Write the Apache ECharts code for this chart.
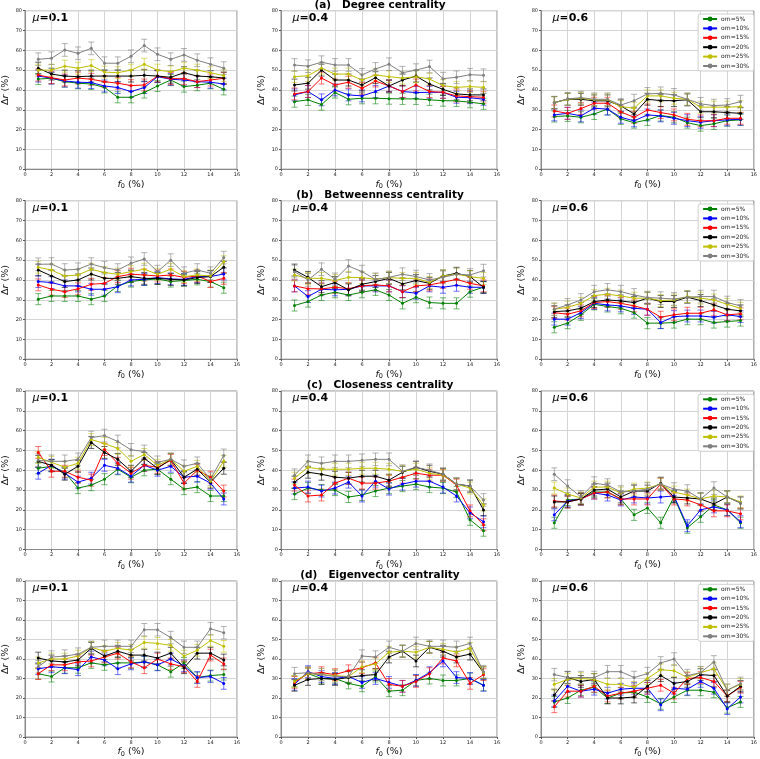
<!DOCTYPE html>
<html><head><meta charset="utf-8">
<script src="https://cdn.jsdelivr.net/npm/echarts@6/dist/echarts.min.js"></script>
<style>html,body{margin:0;padding:0;background:#fff}#c{width:760px;height:759px}</style>
</head><body><div id="c"></div>
<script>
const F0 = [1,2,3,4,5,6,7,8,9,10,11,12,13,14,15];
const SERIES_NAMES = ['om=5%','om=10%','om=15%','om=20%','om=25%','om=30%'];
const COLORS = ['#008000','#0000ff','#ff0000','#000000','#bfbf00','#808080'];
const ERR_COLORS = ['rgba(0,128,0,0.55)','rgba(0,0,255,0.55)','rgba(255,0,0,0.55)','rgba(0,0,0,0.6)','rgba(191,191,0,0.55)','rgba(128,128,128,0.6)'];
const ERR_HALF = [2.8,3,3,3,3,3.2];
const MU_LABELS = ['0.1','0.4','0.6'];
const ROW_TITLES = ['(a)   Degree centrality','(b)   Betweenness centrality','(c)   Closeness centrality','(d)   Eigenvector centrality'];
const X_TICK_INTERVAL = 2, Y_TICK_INTERVAL = 10;

const DEG_MU01 = [
 [45.5,45.9,44.2,43.4,43,41.3,36.3,36.3,38.7,42,45,41.7,42.4,43.4,40.3],
 [47,46,44.5,43.9,43.7,42,41.2,39.2,41.2,46.7,45.4,45,44.2,43.9,43],
 [47.5,46.2,45,46,45.4,44.2,43.4,42.2,42.5,47,45.7,45.7,44.2,45,45.9],
 [51,48,47,46.7,47,47,47,47,47.4,47,46.4,48.7,47,46.7,46],
 [50,50,52,51,52.3,49,48.7,50,53,50,49.2,51,50,48.7,47.2],
 [55.5,56,60.2,58.5,61,53.5,53.5,57,62.4,58,55.5,57.7,55,53,51]];
const DEG_MU04 = [
 [34.1,35,32.6,38.7,35.3,35.8,35.8,35.6,35.5,35.5,35,34.6,34.5,33.8,33],
 [37.5,39.2,35,40,37.5,37,39.2,42,39.2,38.7,38.8,38.8,36.3,36.1,35.3],
 [38,39.2,46,42.5,43.9,40.8,44.5,42,39.2,42.5,39.2,38.8,37,36.6,36.3],
 [42.5,43.4,50,45,45,42.5,46.2,42,45,47,43,40.3,38,37.5,37.5],
 [46.7,47.2,51,48,48,45,47.6,46.7,46,46.7,45.5,42.2,41.3,41.7,41.3],
 [52.6,52,54,52.6,52.6,47.6,50.6,53,48.7,50,51.8,45.7,46.4,47.7,47.4]];
const DEG_MU06 = [
 [26.6,26.9,26.2,27.9,30.3,25.4,23.5,24.9,27.1,26.2,23.5,22,22.9,24.5,24.9],
 [27.4,28.2,26.9,30.8,30.3,26.2,24.4,27.4,26.9,25.7,24.5,23.7,24.5,24.9,25.2],
 [29.4,28.2,30.6,33.3,33.3,28.9,26.2,29.9,28.6,27.4,25.2,24.4,24.5,25.7,25.7],
 [33.6,35.3,35.3,34.5,34.5,32,27.9,35.3,34.6,34.6,35,29,29,28.6,28.2],
 [33.6,35.3,35.8,35,35,31.6,30.8,37,37,35.8,35.3,31.3,31.3,31.3,31.6],
 [33.6,35.5,36.1,35.3,35.3,32.4,34.6,38,38.3,37.5,35.3,33,32.1,32.4,34.1]];
const BET_MU01 = [
 [30.3,31.9,31.9,31.9,30.3,31.9,37,39.2,40,40.5,39.2,39.7,40.3,39.2,36.1],
 [39.2,38.7,37,37,35.3,35.3,36.6,40,40.3,41.2,40.5,40.3,41.7,41.7,43],
 [37.5,35.3,34.1,35.5,37.8,38.3,41.7,42.9,42.5,42,42.5,41.3,42,39.2,40.8],
 [45,42,39.2,40,43,40.8,40.8,41.7,40.8,40.8,40.3,40,41.2,41.7,46.4],
 [46.4,45,42,42.5,45.4,43.7,42.9,44.2,45.4,42.9,45.4,41.7,42.5,42,49.2],
 [47.9,48,45,45.4,48,46.2,45,48.4,50.6,44.2,50,43.4,45,43.4,51.3]];
const BET_MU04 = [
 [27.1,29.1,32.4,33.8,32.4,33.8,35,32.4,28.2,31.3,28.6,28.2,28.2,34.1,36.3],
 [37,31.6,35.3,35,35.3,37,37,37,34.1,33.3,37,36.3,37.3,36.3,36.3],
 [37,35.6,35.5,36.3,35.6,37,37.5,37,34.1,37,37.5,38.8,40.3,38.3,37],
 [45,41.3,36.6,38.7,35,37.8,39.2,40.8,38,39.7,38.3,42,43.4,41.7,36.3],
 [42.5,40.8,40.8,39.7,41.3,41.2,40.3,41.2,40.8,40.8,38.8,42,42.9,41.7,40.8],
 [44.2,40,45.4,40.3,47,44.2,40.3,41.3,42.9,41.7,40,41.3,42.9,42.5,44.7]];
const BET_MU06 = [
 [16.1,18.2,22.4,27.7,26.6,25.7,23.5,18.2,18.2,18.5,20.2,20.2,18.5,19,19.5],
 [20.2,20.2,23.5,28.2,27.4,26.9,25.7,25.2,18.5,21.5,21.8,21.8,21.2,22.4,21.5],
 [23.5,22.7,24.4,28.6,29.1,28.2,26.9,25.2,21.2,22.4,23.2,23.2,24.9,22.4,22.9],
 [24,24.4,25.7,29.1,29.9,29.4,28.6,30.8,29.1,29.1,31.3,29.6,27.4,25.2,24.4],
 [25.2,26.2,28.2,32.1,32.8,31.9,30.8,30.8,29.6,29.9,31.6,30.8,29.9,27.7,25.7],
 [25.2,27.4,29.9,34.1,35,34.1,32.4,31.1,30.8,30.4,31.3,31.6,31.6,28.6,26.9]];
const CLO_MU01 = [
 [41,42,39,31,32.5,35.5,40.5,36.5,40,40.5,35.5,30.5,31.5,27,27],
 [38.5,42.5,38.5,34,36,42.5,41,37,42.5,40,42,36.5,37,33.5,25.5],
 [49,39.5,39.5,36.5,35,50.5,43.5,38.5,42.5,41.5,45,33.5,40,36.5,29.5],
 [44.5,42.5,38,42,54,49,45.5,39.5,46,41,45.5,36.5,40.5,34,41],
 [46.5,44,41.5,43.5,55.5,53.5,51,44.5,48,42.5,45.5,39.5,42,34.5,44.5],
 [45,44.5,44.5,45.5,56.5,57.5,54.5,50.3,49.5,44,45.5,42,43.5,35.5,47.5]];
const CLO_MU04 = [
 [28,31,30,30,26.5,27.5,29.5,31,32,33,31.5,31,29,15,9.5],
 [31,31.5,29.5,31,34,27,34.5,30.5,33,34.5,34.5,31.5,27,18.5,14],
 [32.5,27,27.5,33.5,36,33.5,33.5,34.5,36.5,38.5,37.5,37.5,32.5,19.5,12.5],
 [34,39,38,36.5,36,37,37,35,39,41.5,39.5,38,33,32,20],
 [36,41.5,40.5,40.5,40.5,41,41,40.5,39.5,40.5,38.5,37.5,33,31,22.5],
 [37.5,44.5,43.5,44.5,44.5,45,45.5,45.5,39.5,41.5,40,38,33,32,25]];
const CLO_MU06 = [
 [13.5,25,25.5,29,29,25.5,17.5,21,13.5,26.5,11,16.5,22.5,20,13.5],
 [17.5,24.5,25.5,28.5,27.5,25,26.5,26,26.5,27,12,20,21.5,20,14],
 [24.5,24,25.5,28.5,29,25.5,25.5,25.5,33,25.5,25,22.5,19.5,19.5,18],
 [24,24,25.5,30,30.5,26.5,29.5,29.5,33.5,26.5,26,25.5,23,26.5,23.5],
 [31,28,26,31.5,31.5,28.5,30.5,31,33,29,27.5,25.5,27,26.5,24],
 [38,32,26.5,33.5,32.5,29,29.5,30.5,33,30.5,29.5,25.5,31,26.5,23.5]];
const EIG_MU01 = [
 [32.5,31,35.5,35.5,38,37,38,38,38.5,37,33.5,38,30.5,31.5,32],
 [35,36,35.5,34.5,41,39.5,35,37.5,38.5,37,40,36.5,30.5,31,27.5],
 [32.5,37,37,38.5,39,41,43,38.5,35.5,40,37.5,36,28.5,42,37.5],
 [40.5,39,38.5,39.5,45.5,41.5,44,42,42,40.5,43,35.5,43,43,39.5],
 [38,40,40,41.5,46,44,45.5,44.5,48.5,48,47,41.5,44.5,49.5,46.5],
 [36,41,41.5,42.5,46,46.5,46.5,46.5,55,55,51,46,46,55.5,53.5]];
const EIG_MU04 = [
 [28.5,32.5,30,30,27.5,26,31,23.5,24,29,30,29,29,30,26.5],
 [27,33.5,31,30,31,28,30,28,26,29,33,39,30.5,30,26.5],
 [28,32.5,33,32,34,35.5,38,27,26,28.5,32.5,40.5,39,27.5,32],
 [26.5,29.5,30,29.5,30.5,31.5,32,41,44,39,46,44,41,42.5,33],
 [28.5,32.5,32,31.5,31,36,37.5,43.5,44,43.5,46,45,43.5,45.5,33],
 [32.5,33,32,31,31,41.5,41,46,44,48,46.5,46.5,46,48,33.5]];
const EIG_MU06 = [
 [18,20,24,25.5,20,22.5,23,20.5,17,20.5,24,24,23,15,18],
 [18.5,26,23.5,24.5,22.5,24.5,25,25,16.5,25,24.5,28.5,25,14.5,20.5],
 [15.5,23.5,23.5,26,21,22.5,23.5,25,26.5,22.5,30,30.5,28.5,21,25.5],
 [21.5,30.5,28.5,29.5,20,20,20.5,26,31.5,27.5,28.5,32,31.5,21,26],
 [27,29.5,30,29.5,27,27,25.5,30,34.5,34,30.5,33,35,24,27],
 [32,30.5,30.5,30.5,33.5,33.5,30.5,32.5,38,40,31.5,33,38.5,24,27.5]];

const PANELS = [[DEG_MU01,DEG_MU04,DEG_MU06],[BET_MU01,BET_MU04,BET_MU06],[CLO_MU01,CLO_MU04,CLO_MU06],[EIG_MU01,EIG_MU04,EIG_MU06]];

// layout
const COL_LEFT = [21,281,541], PW = 216;
const ROW_TOP = [10.7,200.7,391,581], PH = 158.5;
const FONT = 'DejaVu Sans';

const grids = [], xAxes = [], yAxes = [], series = [], graphics = [], legends = [];
let gi = 0;
for (let r = 0; r < 4; r++) {
  for (let c = 0; c < 3; c++) {
    grids.push({left: COL_LEFT[c], top: ROW_TOP[r], width: PW, height: PH, show: true, borderColor: '#8a8a8a', borderWidth: 1, backgroundColor: 'transparent'});
    xAxes.push({gridIndex: gi, type: 'value', min: 0, max: 16, interval: X_TICK_INTERVAL,
      name: '{i|f}{s|0}{n| (%)}', nameLocation: 'middle', nameGap: 9,
      nameTextStyle: {rich: {i: {fontFamily: FONT, fontStyle: 'italic', fontSize: 9.5, color: '#111'}, s: {fontFamily: FONT, fontSize: 6.5, color: '#111', padding: [5,0,0,0]}, n: {fontFamily: FONT, fontSize: 9.5, color: '#111'}}},
      axisLine: {show: true, lineStyle: {color: '#8a8a8a', width: 1}},
      axisTick: {show: true, length: 2, lineStyle: {color: '#555'}},
      axisLabel: {fontSize: 5, fontFamily: FONT, color: '#222', margin: 3},
      splitLine: {show: true, lineStyle: {color: '#d4d4d4', width: 1}}});
    yAxes.push({gridIndex: gi, type: 'value', min: 0, max: 80, interval: Y_TICK_INTERVAL,
      name: '{d|Δ}{i|r}{n| (%)}', nameLocation: 'middle', nameGap: 14,
      nameTextStyle: {rich: {d: {fontFamily: FONT, fontSize: 9.5, color: '#111'}, i: {fontFamily: FONT, fontStyle: 'italic', fontSize: 9.5, color: '#111'}, n: {fontFamily: FONT, fontSize: 9.5, color: '#111'}}},
      axisLine: {show: true, lineStyle: {color: '#8a8a8a', width: 1}},
      axisTick: {show: true, length: 2, lineStyle: {color: '#555'}},
      axisLabel: {fontSize: 5, fontFamily: FONT, color: '#222', margin: 3},
      splitLine: {show: true, lineStyle: {color: '#d4d4d4', width: 1}}});
    const data = PANELS[r][c];
    for (let s = 0; s < 6; s++) {
      const vals = data[s];
      series.push({type: 'custom', xAxisIndex: gi, yAxisIndex: gi, silent: true, z: 2,
        data: F0.map((x, i) => [x, vals[i] - ERR_HALF[s], vals[i] + ERR_HALF[s]]),
        renderItem: (function(col){ return function(params, api) {
          const x = api.value(0);
          const p1 = api.coord([x, api.value(1)]);
          const p2 = api.coord([x, api.value(2)]);
          const st = {stroke: col, lineWidth: 1};
          return {type: 'group', children: [
            {type: 'line', shape: {x1: p1[0], y1: p1[1], x2: p2[0], y2: p2[1]}, style: st},
            {type: 'line', shape: {x1: p1[0]-3, y1: p1[1], x2: p1[0]+3, y2: p1[1]}, style: st},
            {type: 'line', shape: {x1: p2[0]-3, y1: p2[1], x2: p2[0]+3, y2: p2[1]}, style: st}
          ]};
        };})(ERR_COLORS[s])
      });
      series.push({type: 'line', name: SERIES_NAMES[s], xAxisIndex: gi, yAxisIndex: gi, z: 3,
        data: F0.map((x, i) => [x, vals[i]]),
        symbol: 'circle', symbolSize: 3, showSymbol: true,
        lineStyle: {color: COLORS[s], width: 1}, itemStyle: {color: COLORS[s], borderWidth: 0},
        emphasis: {disabled: true}, animation: false});
    }
    graphics.push({type: 'text', left: COL_LEFT[c] + 11.5, top: ROW_TOP[r] + 1.5,
      style: {text: '{i|μ}{b|=' + MU_LABELS[c] + '}', rich: {
        i: {fontFamily: FONT, fontStyle: 'italic', fontSize: 11, fill: '#000'},
        b: {fontFamily: FONT, fontWeight: 'bold', fontSize: 11, fill: '#000'}}}});
    gi++;
  }
  graphics.push({type: 'text', left: 'center', x: 0, top: ROW_TOP[r] - 11,
    style: {text: ROW_TITLES[r], font: 'bold 10.5px "DejaVu Sans"', fill: '#000'}});
  legends.push({right: 6, top: ROW_TOP[r] + 3.3, orient: 'vertical', data: SERIES_NAMES,
    itemWidth: 14, itemHeight: 6, itemGap: 3.4, padding: [2, 5, 2, 4],
    itemStyle: {borderWidth: 0},
    borderColor: '#cfcfcf', borderWidth: 1, borderRadius: 2, backgroundColor: 'rgba(255,255,255,0.85)',
    textStyle: {fontFamily: FONT, fontSize: 6, color: '#222', padding: [0,0,0,-1]}});
}

const chart = echarts.init(document.getElementById('c'), null, {renderer: 'canvas'});
chart.setOption({animation: false, backgroundColor: '#fff', grid: grids, xAxis: xAxes, yAxis: yAxes,
  series: series, legend: legends, graphic: graphics, tooltip: {show: false}});
</script></body></html>
